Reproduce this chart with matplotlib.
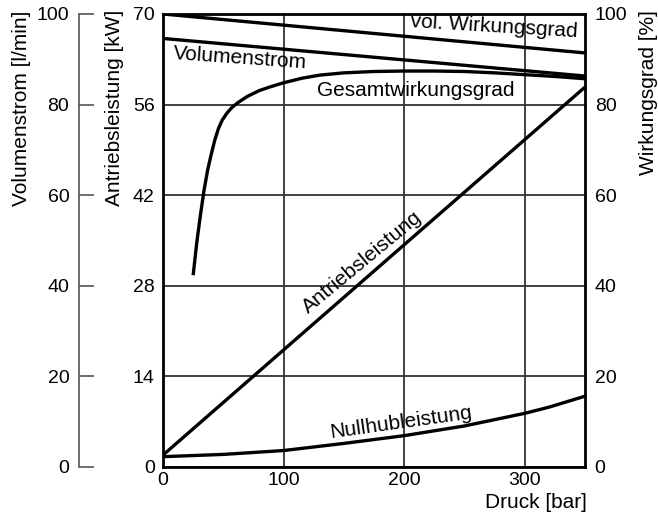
import matplotlib
matplotlib.use("Agg")
import matplotlib.pyplot as plt

plt.rcParams['font.family'] = ['Liberation Sans', 'DejaVu Sans']

# Data (x = Druck [bar])
druck_lin = [0, 350]
vol_wirkungsgrad = [100, 91.4]          # %
volumenstrom = [94.6, 86.3]             # l/min
antriebsleistung = [1.8, 58.7]          # kW

gesamt_x = [25, 28, 31, 34, 37, 40, 43, 46, 49, 53, 57, 62, 70, 80, 90, 100,
            115, 130, 150, 175, 200, 225, 250, 275, 300, 325, 350]
gesamt_y = [42.3, 49.5, 55.5, 61.0, 65.5, 69.0, 72.2, 74.7, 76.5, 78.1, 79.3, 80.4,
            81.8, 83.1, 84.0, 84.8, 85.8, 86.5, 87.0, 87.3, 87.4, 87.4, 87.3, 87.0,
            86.6, 86.2, 85.7]

null_x = [0, 50, 100, 150, 200, 250, 300, 320, 350]
null_y = [1.55, 1.9, 2.5, 3.6, 4.8, 6.3, 8.25, 9.2, 10.9]

x_ticks = [0, 100, 200, 300]
kw_ticks = [0, 14, 28, 42, 56, 70]
pct_ticks = [0, 20, 40, 60, 80, 100]
lmin_ticks = [0, 20, 40, 60, 80, 100]

W, H = 658, 518
fig = plt.figure(figsize=(W / 100, H / 100), dpi=100)
L, R, B, T = 163 / W, 585 / W, (H - 466.7) / H, (H - 14) / H
ax = fig.add_axes([L, B, R - L, T - B])
ax_r = ax.twinx()
ax_v = ax.twinx()

fs = 14
fl = 15
lw = 2.4

ax.set_xlim(0, 350)
ax.set_ylim(0, 70)
ax_r.set_ylim(0, 100)
ax_v.set_ylim(0, 100)

ax.set_xticks(x_ticks)
ax.set_yticks(kw_ticks)
ax.tick_params(axis='both', length=0, labelsize=fs, pad=6)
ax.tick_params(axis='x', pad=4)
ax.grid(True, color='#333333', lw=1.3)
for s in ax.spines.values():
    s.set_linewidth(2.0)
    s.set_color('black')

ax_r.set_yticks(pct_ticks)
ax_r.tick_params(axis='y', length=0, labelsize=fs, pad=7)
for s in ax_r.spines.values():
    s.set_visible(False)

ax_v.set_yticks(lmin_ticks)
ax_v.yaxis.set_ticks_position('left')
ax_v.yaxis.set_label_position('left')
for name, s in ax_v.spines.items():
    s.set_visible(name == 'left')
off = (79 - 163) / (585 - 163)
ax_v.spines['left'].set_position(('axes', off))
ax_v.spines['left'].set_color('#555555')
ax_v.spines['left'].set_linewidth(1.2)
ax_v.tick_params(axis='y', direction='in', length=11, width=1.2, color='#555555',
                 labelsize=fs, pad=7)

# curves
ax.plot(druck_lin, antriebsleistung, color='black', lw=lw, solid_capstyle='butt')
ax.plot(null_x, null_y, color='black', lw=lw)
ax_r.plot(druck_lin, vol_wirkungsgrad, color='black', lw=lw, solid_capstyle='butt')
ax_r.plot(gesamt_x, gesamt_y, color='black', lw=lw, solid_capstyle='butt')
ax_v.plot(druck_lin, volumenstrom, color='black', lw=lw, solid_capstyle='butt')
for a in (ax_r, ax_v):
    a.set_xlim(0, 350)

# curve labels (in main axes data coords, kW)
ax.text(274.5, 68.0, 'vol. Wirkungsgrad', fontsize=fl, rotation=-3.5, ha='center', va='center',
        rotation_mode='anchor')
ax.text(64, 63.2, 'Volumenstrom', fontsize=fl, rotation=-4, ha='center', va='center',
        rotation_mode='anchor')
ax.text(210, 58.2, 'Gesamtwirkungsgrad', fontsize=fl, rotation=0, ha='center', va='center')
ax.text(165, 31.6, 'Antriebsleistung', fontsize=fl, rotation=39.6, ha='center', va='center',
        rotation_mode='anchor')
ax.text(197, 6.8, 'Nullhubleistung', fontsize=fl, rotation=8, ha='center', va='center',
        rotation_mode='anchor')

# axis labels
fig.text(587 / W, 6 / H, 'Druck [bar]', fontsize=fl, ha='right', va='bottom')
fig.text(22 / W, 1 - 11 / H, 'Volumenstrom [l/min]', fontsize=fl, rotation=90,
         ha='center', va='top')
fig.text(114 / W, 1 - 10 / H, 'Antriebsleistung [kW]', fontsize=fl, rotation=90,
         ha='center', va='top')
fig.text(648 / W, 1 - 10 / H, 'Wirkungsgrad [%]', fontsize=fl, rotation=90,
         ha='center', va='top')

fig.savefig('out.png', dpi=100)
